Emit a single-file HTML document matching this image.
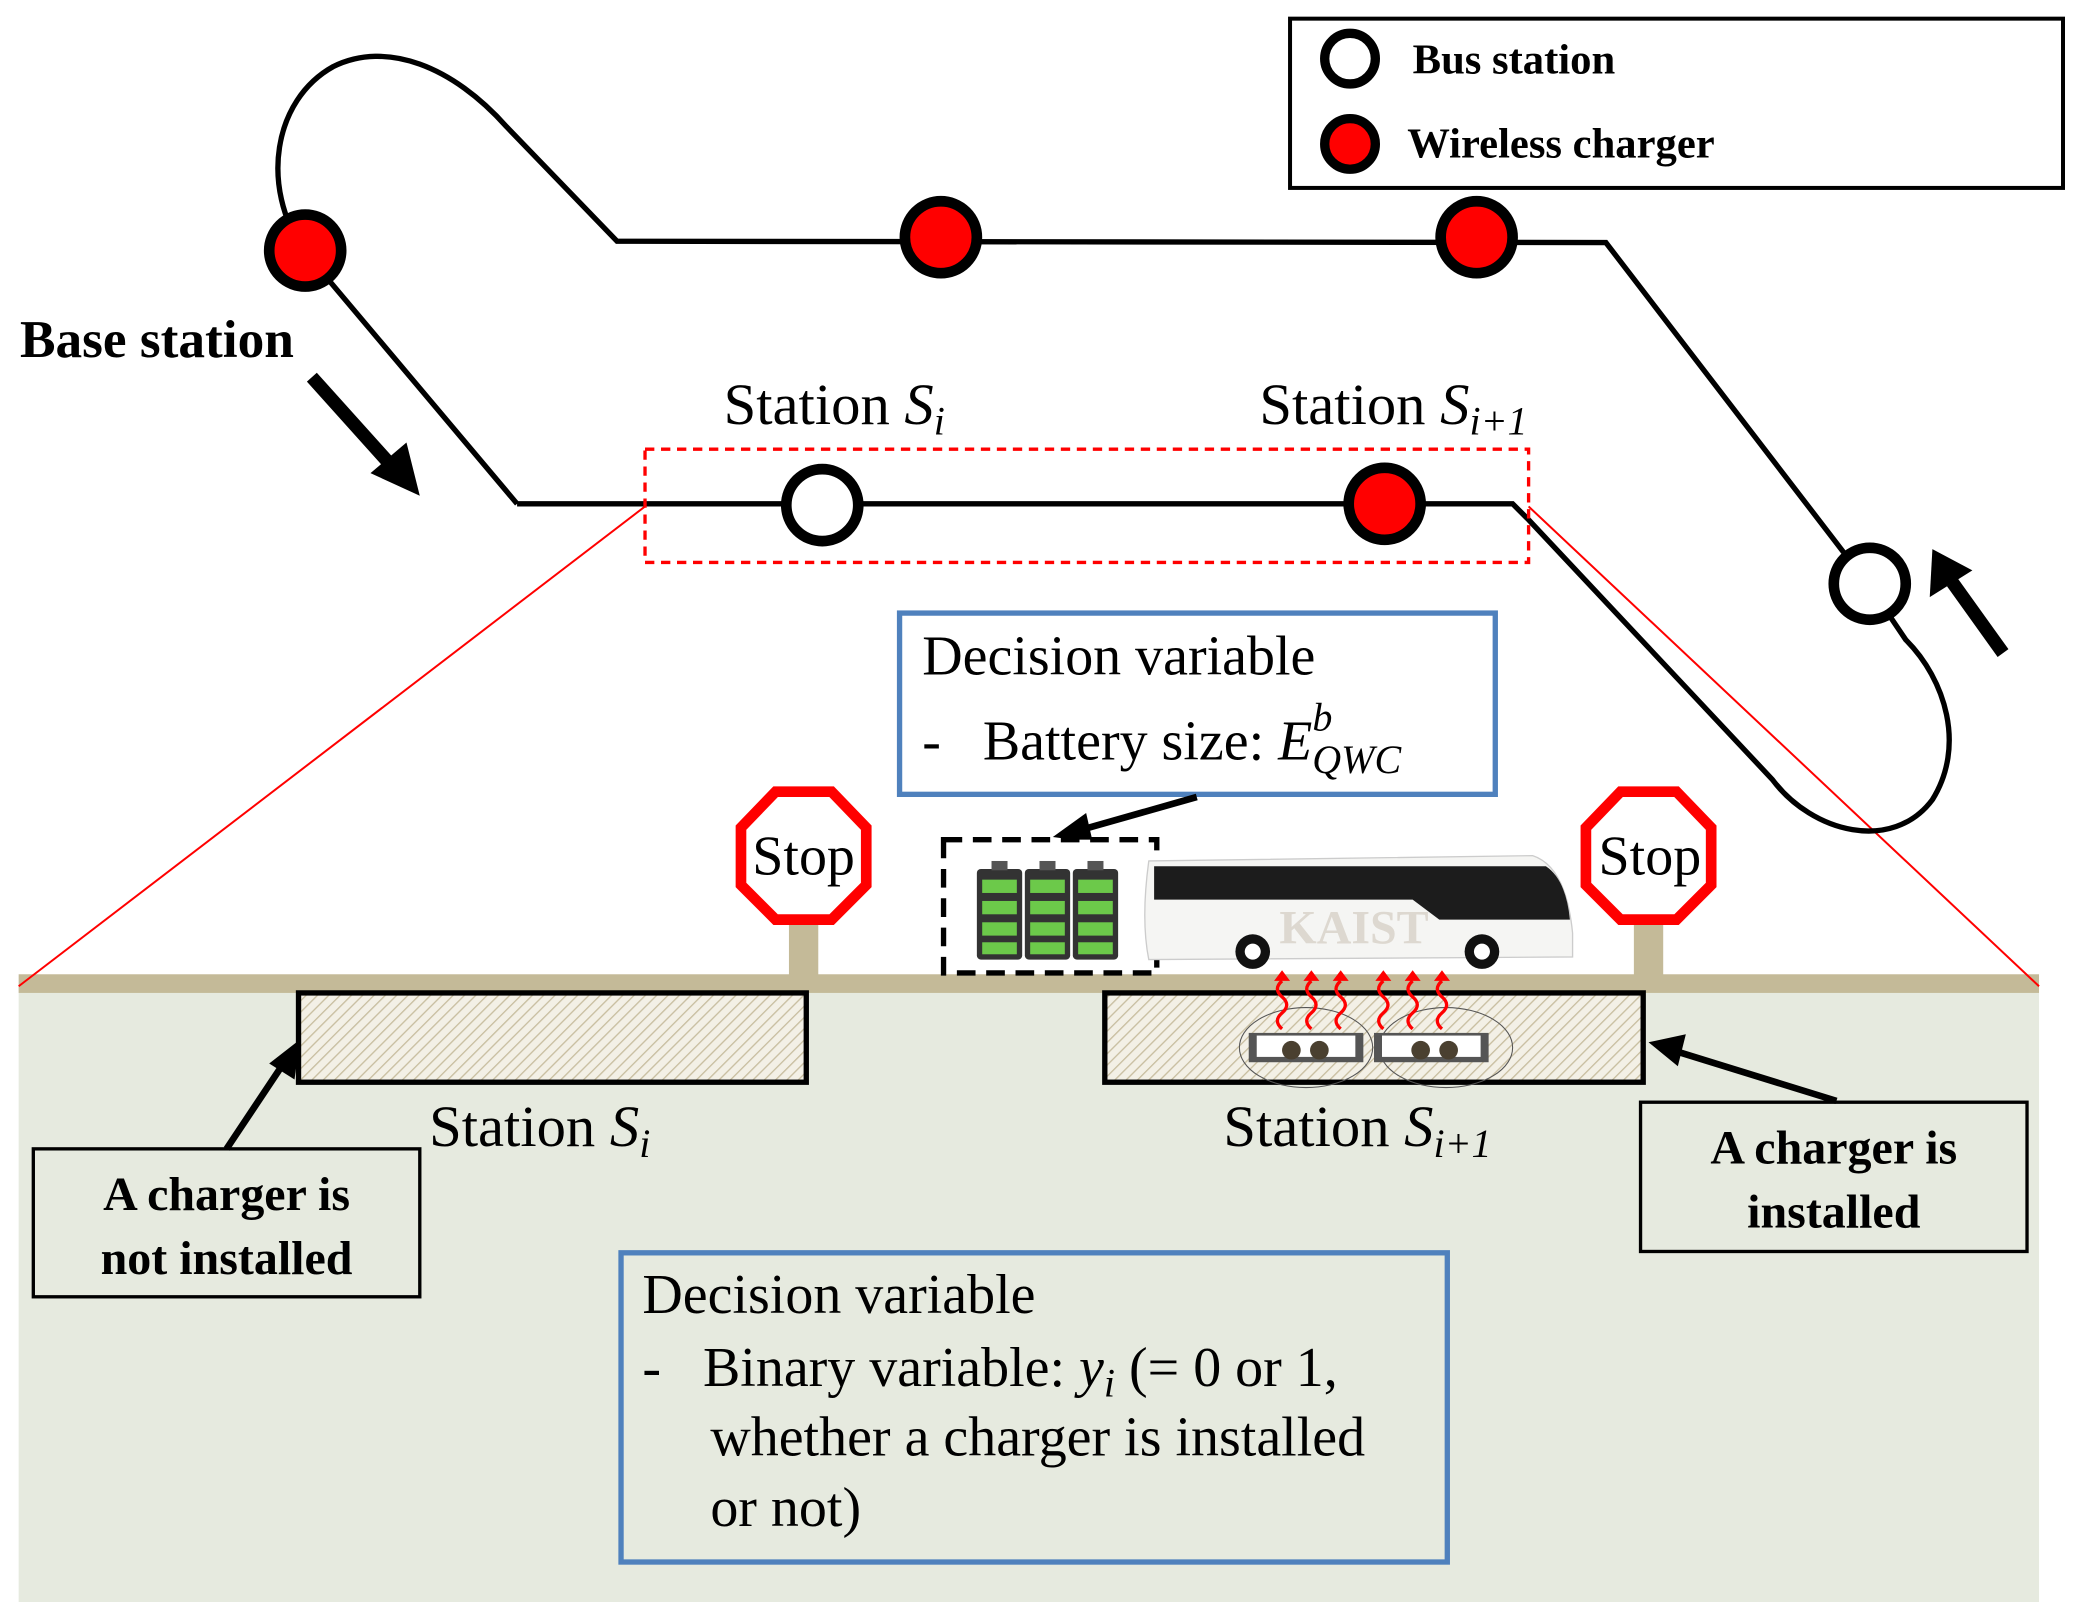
<!DOCTYPE html>
<html><head><meta charset="utf-8"><style>html,body{margin:0;padding:0;background:#fff}svg{display:block}</style></head>
<body>
<svg width="2079" height="1610" viewBox="0 0 1560 1208" preserveAspectRatio="none" xmlns="http://www.w3.org/2000/svg" font-family="Liberation Serif, serif">
<defs>
<pattern id="h" width="6" height="6" patternUnits="userSpaceOnUse" patternTransform="rotate(45)">
<rect width="6" height="6" fill="#f3f0e6"/><line x1="0" y1="0" x2="0" y2="6" stroke="#c8bea0" stroke-width="2"/></pattern>
</defs>
<rect x="14" y="740" width="1516" height="462" fill="#e6eadf"/>
<rect x="14" y="731" width="1516" height="14" fill="#c4ba98"/>
<line x1="484" y1="380" x2="14" y2="740" stroke="red" stroke-width="1.5"/>
<line x1="1147" y1="380" x2="1530" y2="740" stroke="red" stroke-width="1.5"/>
<path d="M388,378 L1135,378 L1147,390 L1330,585 C1360,625 1420,640 1450,600 C1475,560 1460,510 1430,480 L1403,440 L1205,182 L463,181 L380,95 C340,50 290,30 250,50 C205,75 195,140 228,188 L388,378" fill="none" stroke="#000" stroke-width="4"/>
<rect x="484" y="337" width="663" height="85" fill="none" stroke="red" stroke-width="2.5" stroke-dasharray="7,5"/>
<g stroke="#000" stroke-width="8">
<circle cx="229" cy="188" r="27" fill="red"/>
<circle cx="706" cy="178" r="27" fill="red"/>
<circle cx="1108" cy="178" r="27" fill="red"/>
<circle cx="1039" cy="378" r="27" fill="red"/>
<circle cx="617" cy="379" r="27" fill="#fff"/>
<circle cx="1403" cy="438" r="27" fill="#fff"/>
</g>
<rect x="968" y="14" width="580" height="127" fill="#fff" stroke="#000" stroke-width="3"/>
<circle cx="1013" cy="44" r="19" fill="#fff" stroke="#000" stroke-width="7"/>
<circle cx="1013" cy="108" r="19" fill="red" stroke="#000" stroke-width="7"/>
<text x="1060" y="55" font-size="32" font-weight="bold">Bus station</text>
<text x="1056" y="118" font-size="32" font-weight="bold">Wireless charger</text>
<text x="15" y="268" font-size="40" font-weight="bold">Base station</text>
<line x1="234" y1="283" x2="296" y2="352" stroke="#000" stroke-width="10"/>
<path d="M278,355 L315,372 L305,332 z" fill="#000"/>
<line x1="1503" y1="490" x2="1465" y2="437" stroke="#000" stroke-width="10"/>
<path d="M1448,448 L1450,412 L1480,428 z" fill="#000"/>
<text x="543" y="318" font-size="44">Station <tspan font-style="italic">S</tspan><tspan font-style="italic" font-size="30" dy="8">i</tspan></text>
<text x="945" y="318" font-size="44">Station <tspan font-style="italic">S</tspan><tspan font-style="italic" font-size="30" dy="8">i+1</tspan></text>
<rect x="675" y="460" width="447" height="136" fill="#fff" stroke="#4f81bd" stroke-width="4"/>
<text x="692" y="506" font-size="42">Decision variable</text>
<text x="692" y="570" font-size="42">-&#160;&#160;&#160;Battery size: <tspan font-style="italic">E</tspan><tspan font-style="italic" font-size="30" dy="-22">b</tspan><tspan font-style="italic" font-size="30" dx="-15" dy="32">QWC</tspan></text>
<line x1="898" y1="598" x2="810" y2="623" stroke="#000" stroke-width="5"/>
<path d="M790,628 L815,610 L820,632 z" fill="#000"/>
<rect x="708" y="630" width="160" height="100" fill="#fff" stroke="#000" stroke-width="4" stroke-dasharray="14,8"/>
<g>
<rect x="733" y="652" width="34" height="68" rx="3" fill="#333"/><rect x="744" y="646" width="12" height="7" fill="#555"/>
<rect x="769" y="652" width="34" height="68" rx="3" fill="#333"/><rect x="780" y="646" width="12" height="7" fill="#555"/>
<rect x="805" y="652" width="34" height="68" rx="3" fill="#333"/><rect x="816" y="646" width="12" height="7" fill="#555"/>
<g fill="#6cc94a">
<rect x="737" y="660" width="26" height="10"/><rect x="737" y="676" width="26" height="10"/><rect x="737" y="692" width="26" height="10"/><rect x="737" y="707" width="26" height="9"/>
<rect x="773" y="660" width="26" height="10"/><rect x="773" y="676" width="26" height="10"/><rect x="773" y="692" width="26" height="10"/><rect x="773" y="707" width="26" height="9"/>
<rect x="809" y="660" width="26" height="10"/><rect x="809" y="676" width="26" height="10"/><rect x="809" y="692" width="26" height="10"/><rect x="809" y="707" width="26" height="9"/>
</g></g>
<path d="M862,646 L1150,642 Q1175,650 1180,700 L1180,718 L862,720 Q856,690 862,646 z" fill="#f5f5f3" stroke="#ccc"/>
<path d="M866,650 L1160,650 Q1175,660 1178,690 L1080,690 L1060,675 L866,675 z" fill="#1c1c1c"/>
<text x="960" y="708" font-size="36" font-weight="bold" fill="#ddd8d0">KAIST</text>
<circle cx="940" cy="714" r="13" fill="#111"/><circle cx="940" cy="714" r="6" fill="#fff"/>
<circle cx="1112" cy="714" r="13" fill="#111"/><circle cx="1112" cy="714" r="6" fill="#fff"/>
<rect x="592" y="690" width="22" height="45" fill="#c4ba98"/>
<rect x="1226" y="690" width="22" height="45" fill="#c4ba98"/>
<polygon points="582,594 624,594 650,621 650,664 624,690 582,690 556,664 556,621" fill="#fff" stroke="red" stroke-width="8"/>
<polygon points="1216,594 1258,594 1284,621 1284,664 1258,690 1216,690 1190,664 1190,621" fill="#fff" stroke="red" stroke-width="8"/>
<text x="603" y="656" font-size="42" text-anchor="middle">Stop</text>
<text x="1238" y="656" font-size="42" text-anchor="middle">Stop</text>
<rect x="224" y="745" width="381" height="67" fill="url(#h)" stroke="#000" stroke-width="4"/>
<rect x="829" y="745" width="404" height="67" fill="url(#h)" stroke="#000" stroke-width="4"/>
<ellipse cx="980" cy="786" rx="50" ry="30" fill="none" stroke="#555" stroke-width="0.8"/>
<ellipse cx="1085" cy="786" rx="50" ry="30" fill="none" stroke="#555" stroke-width="0.8"/>
<rect x="937" y="775" width="86" height="22" fill="#555"/><rect x="943" y="777" width="74" height="16" fill="#fff"/>
<rect x="1031" y="775" width="86" height="22" fill="#555"/><rect x="1037" y="777" width="74" height="16" fill="#fff"/>
<g fill="#4a4030"><circle cx="969" cy="788" r="7"/><circle cx="990" cy="788" r="7"/><circle cx="1066" cy="788" r="7"/><circle cx="1087" cy="788" r="7"/></g>
<g fill="none" stroke="red" stroke-width="2.5">
<path d="M962,772 q-7,-6 0,-12 q7,-6 0,-12 q-7,-6 0,-12"/>
<path d="M984,772 q-7,-6 0,-12 q7,-6 0,-12 q-7,-6 0,-12"/>
<path d="M1006,772 q-7,-6 0,-12 q7,-6 0,-12 q-7,-6 0,-12"/>
<path d="M1038,772 q-7,-6 0,-12 q7,-6 0,-12 q-7,-6 0,-12"/>
<path d="M1060,772 q-7,-6 0,-12 q7,-6 0,-12 q-7,-6 0,-12"/>
<path d="M1082,772 q-7,-6 0,-12 q7,-6 0,-12 q-7,-6 0,-12"/>
</g>
<g fill="red"><path d="M956,736 l6,-8 l6,8z"/><path d="M978,736 l6,-8 l6,8z"/><path d="M1000,736 l6,-8 l6,8z"/><path d="M1032,736 l6,-8 l6,8z"/><path d="M1054,736 l6,-8 l6,8z"/><path d="M1076,736 l6,-8 l6,8z"/></g>
<text x="322" y="860" font-size="44">Station <tspan font-style="italic">S</tspan><tspan font-style="italic" font-size="30" dy="8">i</tspan></text>
<text x="918" y="860" font-size="44">Station <tspan font-style="italic">S</tspan><tspan font-style="italic" font-size="30" dy="8">i+1</tspan></text>
<rect x="25" y="862" width="290" height="111" fill="#e6eadf" stroke="#000" stroke-width="2.5"/>
<text x="170" y="908" font-size="36" font-weight="bold" text-anchor="middle">A charger is</text>
<text x="170" y="956" font-size="36" font-weight="bold" text-anchor="middle">not installed</text>
<line x1="170" y1="862" x2="214" y2="796" stroke="#000" stroke-width="5"/>
<path d="M225,780 L221,810 L202,798 z" fill="#000"/>
<rect x="1231" y="827" width="290" height="112" fill="#e6eadf" stroke="#000" stroke-width="2.5"/>
<text x="1376" y="873" font-size="36" font-weight="bold" text-anchor="middle">A charger is</text>
<text x="1376" y="921" font-size="36" font-weight="bold" text-anchor="middle">installed</text>
<line x1="1378" y1="826" x2="1255" y2="788" stroke="#000" stroke-width="5"/>
<path d="M1237,782 L1265,776 L1259,800 z" fill="#000"/>
<rect x="466" y="940" width="620" height="232" fill="#e6eadf" stroke="#4f81bd" stroke-width="4"/>
<text x="482" y="985" font-size="42">Decision variable</text>
<text x="482" y="1040" font-size="42">-&#160;&#160;&#160;Binary variable: <tspan font-style="italic">y</tspan><tspan font-style="italic" font-size="30" dy="8">i</tspan><tspan dy="-8"> (= 0 or 1,</tspan></text>
<text x="533" y="1092" font-size="42">whether a charger is installed</text>
<text x="533" y="1145" font-size="42">or not)</text>
</svg>
</body></html>
